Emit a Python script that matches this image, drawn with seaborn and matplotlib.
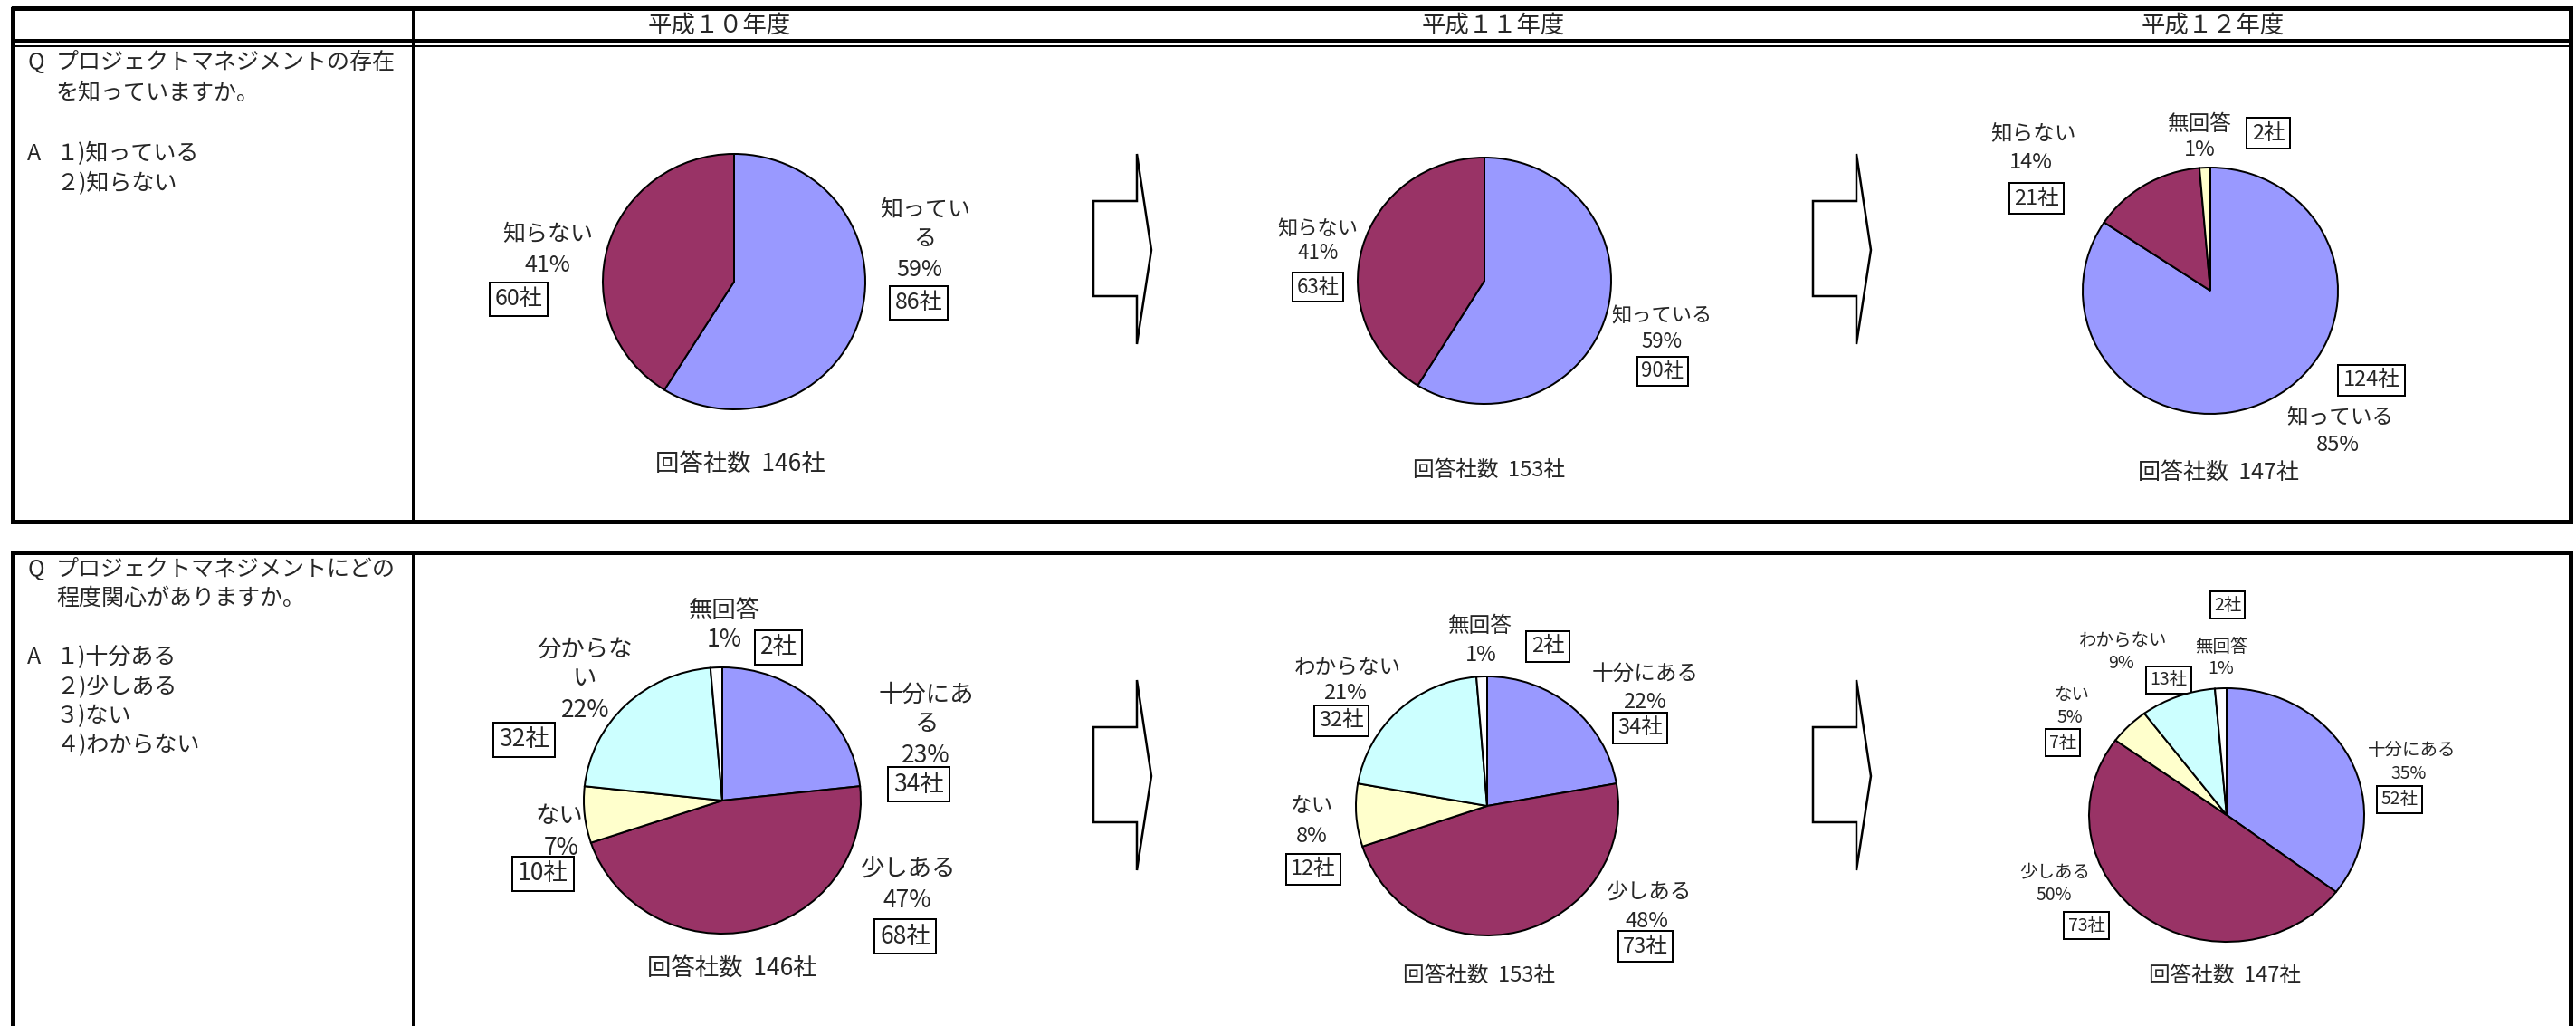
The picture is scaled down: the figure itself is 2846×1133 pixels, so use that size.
import matplotlib
matplotlib.use("Agg")
import matplotlib.pyplot as plt
import seaborn as sns
from matplotlib.patches import Polygon

# Data
years = ["平成１０年度", "平成１１年度", "平成１２年度"]
totals_q1 = [146, 153, 147]
totals_q2 = [146, 153, 147]

# Q1: 知っている / 知らない / 無回答
q1_h10 = [86, 60]
q1_h11 = [90, 63]
q1_h12 = [124, 21, 2]
q1_pct_h10 = [59, 41]
q1_pct_h11 = [59, 41]
q1_pct_h12 = [85, 14, 1]
q1_names_h10 = ["知ってい\nる", "知らない"]
q1_names_h11 = ["知っている", "知らない"]
q1_names_h12 = ["知っている", "知らない", "無回答"]

# Q2: 十分にある / 少しある / ない / わからない / 無回答
q2_h10 = [34, 68, 10, 32, 2]
q2_h11 = [34, 73, 12, 32, 2]
q2_h12 = [52, 73, 7, 13, 2]
q2_pct_h10 = [23, 47, 7, 22, 1]
q2_pct_h11 = [22, 48, 8, 21, 1]
q2_pct_h12 = [35, 50, 5, 9, 1]
q2_names_h10 = ["十分にあ\nる", "少しある", "ない", "分からな\nい", "無回答"]
q2_names_h11 = ["十分にある", "少しある", "ない", "わからない", "無回答"]
q2_names_h12 = ["十分にある", "少しある", "ない", "わからない", "無回答"]

q1_colors = ["#9999FF", "#993366", "#FFFFCC"]
q2_colors = ["#9999FF", "#993366", "#FFFFCC", "#CCFFFF", "#FFFFFF"]

# Layout in pixels (figure is 2846 x 1133)
W, H = 2846, 1133
FONT = ["Noto Sans CJK JP", "DejaVu Sans"]

# pie geometry: center x, center y, radius x, radius y
pie_geom = {
    "p1": (811, 311, 145, 141),
    "p2": (1640, 310, 140, 136),
    "p3": (2442, 321, 141, 136),
    "p4": (798, 884, 153, 147),
    "p5": (1643, 890, 145, 143),
    "p6": (2460, 900, 152, 140),
}
# per slice: name xy, pct xy, count-box xy
label_pos = {
    "p1": [((1022, 248), (1016, 298), (1015, 334)),
           ((605, 259), (605, 293), (573, 330))],
    "p2": [((1836, 349), (1836, 377), (1837, 410)),
           ((1456, 253), (1456, 279), (1456, 317))],
    "p3": [((2585, 461), (2583, 491), (2620, 420)),
           ((2246, 148), (2244, 180), (2250, 219)),
           ((2430, 137), (2430, 165), (2506, 147))],
    "p4": [((1023, 783), (1023, 834), (1015, 866)),
           ((1003, 960), (1002, 994), (1000, 1034)),
           ((618, 902), (620, 936), (600, 965)),
           ((646, 733), (647, 784), (579, 817)),
           ((800, 674), (800, 706), (860, 715))],
    "p5": [((1818, 744), (1817, 775), (1812, 804)),
           ((1821, 985), (1819, 1017), (1818, 1045)),
           ((1449, 890), (1449, 924), (1451, 960)),
           ((1489, 737), (1486, 766), (1482, 796)),
           ((1635, 692), (1636, 723), (1710, 714))],
    "p6": [((2665, 828), (2661, 854), (2651, 883)),
           ((2270, 963), (2269, 988), (2305, 1022)),
           ((2289, 767), (2287, 793), (2279, 820)),
           ((2346, 708), (2344, 733), (2396, 751)),
           ((2454, 714), (2454, 739), (2461, 668))],
}
label_size = {"p1": 18, "p2": 16, "p3": 17, "p4": 19, "p5": 17, "p6": 14}
total_pos = {"p1": (818, 512, 19), "p2": (1645, 520, 17), "p3": (2451, 522, 18),
             "p4": (809, 1069, 19), "p5": (1634, 1078, 17), "p6": (2458, 1078, 17)}

sns.set_theme(style="white")
plt.rcParams["font.family"] = FONT

fig = plt.figure(figsize=(W / 100, H / 100), dpi=100)
bg = fig.add_axes([0, 0, 1, 1])
bg.set_xlim(0, W)
bg.set_ylim(H, 0)
bg.axis("off")


def px(n):
    return n * 0.72


def draw_frame():
    # panel 1
    bg.plot([13.5, 2840, 2840, 13.5, 13.5], [8.5, 8.5, 576, 576, 8.5],
            color="black", lw=px(5), solid_joinstyle="miter")
    bg.plot([13.5, 2840], [45, 45], color="black", lw=px(4))
    bg.plot([13.5, 2840], [50.5, 50.5], color="black", lw=px(2))
    bg.plot([455.5, 455.5], [8.5, 576], color="black", lw=px(3))
    # panel 2 (runs off the bottom)
    bg.plot([13.5, 13.5, 2840, 2840], [1140, 609.5, 609.5, 1140],
            color="black", lw=px(5), solid_joinstyle="miter")
    bg.plot([455.5, 455.5], [609.5, 1140], color="black", lw=px(3))


def draw_arrow(dx, dy):
    pts = [(1256, 170), (1256, 222), (1208, 222), (1208, 327),
           (1256, 327), (1256, 380), (1272, 276)]
    pts = [(x + dx, y + dy) for x, y in pts]
    bg.add_patch(Polygon(pts, closed=True, fc="white", ec="black", lw=px(2.5)))


def draw_pie(key, counts, pcts, names, colors, total):
    cx, cy, rx, ry = pie_geom[key]
    ax = fig.add_axes([(cx - rx) / W, 1 - (cy + ry) / H, 2 * rx / W, 2 * ry / H])
    ax.pie(counts, colors=colors[:len(counts)], startangle=90, counterclock=False,
           wedgeprops=dict(edgecolor="black", linewidth=px(2)))
    ax.set_xlim(-1.0, 1.0)
    ax.set_ylim(-1.0, 1.0)
    ax.set_aspect("auto")
    ax.axis("off")

    fs = label_size[key]
    for (nxy, pxy, bxy), name, pct, n in zip(label_pos[key], names, pcts, counts):
        bg.text(*nxy, name, ha="center", va="center", fontsize=fs, linespacing=1.25)
        bg.text(*pxy, f"{pct}%", ha="center", va="center", fontsize=fs)
        bg.text(*bxy, f"{n}社", ha="center", va="center", fontsize=fs,
                bbox=dict(boxstyle="square,pad=0.22", fc="white", ec="black", lw=px(2)))
    tx, ty, tfs = total_pos[key]
    bg.text(tx, ty, f"回答社数  {total}社", ha="center", va="center", fontsize=tfs)


draw_frame()

# header
for x, label in zip([795, 1650, 2445], years):
    bg.text(x, 28, label, ha="center", va="center", fontsize=19)

# question text, left column
bg.text(30, 69, "Q", ha="left", va="center", fontsize=18)
bg.text(62, 69, "プロジェクトマネジメントの存在", ha="left", va="center", fontsize=18)
bg.text(62, 103, "を知っていますか。", ha="left", va="center", fontsize=18)
bg.text(30, 170, "A", ha="left", va="center", fontsize=18)
bg.text(62, 170, "１)知っている", ha="left", va="center", fontsize=18)
bg.text(62, 203, "２)知らない", ha="left", va="center", fontsize=18)

bg.text(30, 629, "Q", ha="left", va="center", fontsize=18)
bg.text(62, 629, "プロジェクトマネジメントにどの", ha="left", va="center", fontsize=18)
bg.text(62, 661, "程度関心がありますか。", ha="left", va="center", fontsize=18)
bg.text(30, 726, "A", ha="left", va="center", fontsize=18)
for y, item in zip([726, 758, 791, 823], ["１)十分ある", "２)少しある", "３)ない", "４)わからない"]):
    bg.text(62, y, item, ha="left", va="center", fontsize=18)

# arrows between years
for dx in [0, 795]:
    for dy in [0, 581]:
        draw_arrow(dx, dy)

draw_pie("p1", q1_h10, q1_pct_h10, q1_names_h10, q1_colors, totals_q1[0])
draw_pie("p2", q1_h11, q1_pct_h11, q1_names_h11, q1_colors, totals_q1[1])
draw_pie("p3", q1_h12, q1_pct_h12, q1_names_h12, q1_colors, totals_q1[2])
draw_pie("p4", q2_h10, q2_pct_h10, q2_names_h10, q2_colors, totals_q2[0])
draw_pie("p5", q2_h11, q2_pct_h11, q2_names_h11, q2_colors, totals_q2[1])
draw_pie("p6", q2_h12, q2_pct_h12, q2_names_h12, q2_colors, totals_q2[2])

fig.savefig("out.png", dpi=100, facecolor="white")
